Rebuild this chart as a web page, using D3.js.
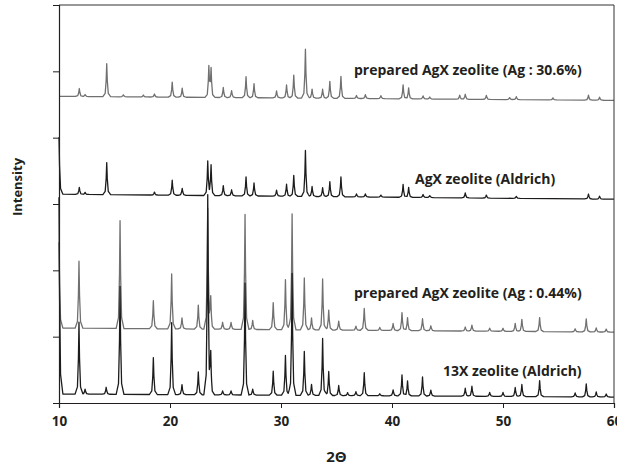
<!DOCTYPE html>
<html>
  <head>
    <meta charset="utf-8" />
    <title>XRD patterns</title>
    <script src="https://d3js.org/d3.v7.min.js"></script>
    <style>
      body { margin: 0; background: #fff; }
      text { font-family: "Open Sans", sans-serif; font-weight: 700; fill: #231f20; }
    </style>
  </head>
  <body>
    <script>
      // Intensity in counts; ticks every 1000 (no labels on the y axis)
      const xTicks = [10, 20, 30, 40, 50, 60];
      const yTicks = [0, 1000, 2000, 3000, 4000, 5000, 6000];

      const labels = [
        "prepared AgX zeolite (Ag : 30.6%)",
        "AgX zeolite (Aldrich)",
        "prepared AgX zeolite (Ag : 0.44%)",
        "13X zeolite (Aldrich)"
      ];
      // baseline at 10° and at 60°
      const baselines = [[4623, 4563], [3148, 3072], [1130, 1069], [136, 90]];

      // peaks: [2θ, height above baseline]
      const peaksAg306 = [
        [11.83, 120], [12.35, 30], [14.3, 497], [15.8, 30], [17.6, 30], [18.6, 45],
        [20.2, 226], [21.1, 136], [23.5, 452], [23.7, 422], [24.8, 151], [25.55, 105],
        [26.85, 316], [27.57, 211], [29.6, 105], [30.5, 196], [31.15, 346], [32.2, 738],
        [32.8, 136], [33.75, 136], [34.4, 256], [35.4, 331], [36.8, 45], [37.6, 60],
        [39.0, 45], [41.0, 211], [41.5, 166], [42.8, 45], [43.4, 30], [46.1, 60],
        [46.6, 75], [48.5, 60], [50.6, 30], [51.2, 45], [54.5, 30], [57.7, 75], [58.7, 45]
      ];
      const peaksAgX = [
        [10.0, 858], [11.83, 105], [12.35, 30], [14.3, 482], [18.6, 45], [20.2, 226],
        [21.1, 105], [23.4, 512], [23.7, 452], [24.8, 151], [25.55, 90], [26.85, 286],
        [27.57, 196], [29.6, 90], [30.5, 181], [31.15, 316], [32.2, 693], [32.8, 151],
        [33.75, 136], [34.4, 226], [35.4, 301], [36.8, 45], [37.6, 45], [39.0, 30],
        [41.0, 196], [41.5, 151], [42.8, 45], [43.4, 30], [46.6, 75], [48.5, 45],
        [51.2, 30], [57.7, 75], [58.7, 45]
      ];
      const peaksAg044 = [
        [10.0, 1295], [11.8, 1009], [15.5, 1626], [18.5, 422], [20.15, 828], [21.08, 166],
        [22.55, 361], [23.4, 1807], [23.67, 437], [24.74, 105], [25.5, 105], [26.76, 1732],
        [27.45, 136], [29.3, 407], [30.4, 753], [31.0, 1747], [32.1, 783], [32.75, 181],
        [33.75, 768], [34.3, 301], [35.2, 136], [36.75, 60], [37.5, 331], [38.9, 45],
        [40.1, 105], [40.9, 271], [41.4, 196], [42.75, 181], [43.5, 75], [46.6, 60],
        [47.2, 90], [48.8, 45], [50.0, 45], [51.1, 120], [51.7, 181], [53.3, 211],
        [56.5, 45], [57.5, 196], [58.4, 60], [59.3, 45]
      ];
      const peaks13X = [
        [10.0, 2967], [11.8, 1084], [12.35, 75], [14.25, 105], [15.5, 1626], [18.5, 557],
        [20.15, 1084], [21.08, 151], [22.55, 346], [23.4, 2997], [23.67, 557], [24.74, 60],
        [25.5, 60], [26.76, 1687], [27.45, 90], [29.3, 361], [30.4, 602], [31.0, 1837],
        [32.1, 663], [32.75, 166], [33.75, 858], [34.3, 361], [35.2, 151], [36.0, 45],
        [36.75, 60], [37.5, 346], [38.9, 30], [40.1, 90], [40.9, 316], [41.4, 226],
        [42.75, 286], [43.5, 90], [46.6, 120], [47.2, 151], [48.8, 60], [50.0, 60],
        [51.1, 136], [51.7, 181], [53.3, 241], [56.5, 60], [57.5, 196], [58.4, 75], [59.3, 45]
      ];
      const peakSets = [peaksAg306, peaksAgX, peaksAg044, peaks13X];

      const width = 617, height = 469;
      const margin = { top: 5, right: 3, bottom: 66, left: 59 };

      const svg = d3.select("body").append("svg")
        .attr("width", width).attr("height", height);

      const x = d3.scaleLinear().domain([10, 60]).range([margin.left, width - margin.right]);
      const y = d3.scaleLinear().domain([0, 6000]).range([height - margin.bottom, margin.top]);

      // peak shape (offset in degrees, fraction of height)
      const shapeOff = [-0.35, -0.14, -0.05, 0, 0.05, 0.14, 0.35];
      const shapeFrac = [0, 0.1, 0.5, 1, 0.5, 0.1, 0];
      const shape = d3.scaleLinear().domain(shapeOff).range(shapeFrac).clamp(true);

      function tracePoints(peaks, base) {
        let xs = [10, 60];
        peaks.forEach(p => shapeOff.forEach(o => xs.push(p[0] + o)));
        xs = Array.from(new Set(xs.filter(v => v >= 10 && v <= 60))).sort((a, b) => a - b);
        const b = d3.scaleLinear().domain([10, 60]).range(base);
        return xs.map(v => [v, b(v) + d3.sum(peaks, p => p[1] * shape(v - p[0]))]);
      }

      const line = d3.line().x(d => x(d[0])).y(d => y(d[1]));
      const colors = ["#707070", "#1c1c1c", "#707070", "#1c1c1c"];
      // gray traces first, black on top
      [0, 2, 1, 3].forEach(i => {
        svg.append("path")
          .datum(tracePoints(peakSets[i], baselines[i]))
          .attr("d", line)
          .attr("fill", "none")
          .attr("stroke", colors[i])
          .attr("stroke-width", 1.3)
          .attr("stroke-linejoin", "round");
      });

      // frame
      svg.append("path")
        .attr("d", `M${x(10)},${y(6000)}H${x(60)}V${y(0)}`)
        .attr("fill", "none").attr("stroke", "#333").attr("stroke-width", 1);

      const xAxis = svg.append("g")
        .attr("transform", `translate(0,${y(0)})`)
        .call(d3.axisBottom(x).tickValues(xTicks).tickSize(5).tickPadding(8));
      const yAxis = svg.append("g")
        .attr("transform", `translate(${x(10)},0)`)
        .call(d3.axisLeft(y).tickValues(yTicks).tickSize(6).tickFormat(""));
      [xAxis, yAxis].forEach(g => {
        g.select(".domain").attr("stroke", "#231f20").attr("stroke-width", 1.2);
        g.selectAll(".tick line").attr("stroke", "#231f20");
      });
      xAxis.selectAll("text")
        .style("font-family", "'Open Sans', sans-serif")
        .style("font-weight", 700)
        .style("font-size", "13.5px")
        .attr("fill", "#231f20");

      // trace labels
      const labelPos = [[354, 75], [415, 184], [354, 298], [443, 376]];
      labels.forEach((t, i) => {
        svg.append("text")
          .attr("x", labelPos[i][0]).attr("y", labelPos[i][1])
          .attr("font-size", 14)
          .text(t);
      });

      svg.append("text")
        .attr("x", (x(10) + x(60)) / 2).attr("y", 462)
        .attr("text-anchor", "middle")
        .attr("font-size", 15)
        .text("2\u0398");

      svg.append("text")
        .attr("transform", `translate(22,${(y(0) + y(6000)) / 2 - 17}) rotate(-90)`)
        .attr("text-anchor", "middle")
        .attr("font-size", 13)
        .text("Intensity");
    </script>
  </body>
</html>
